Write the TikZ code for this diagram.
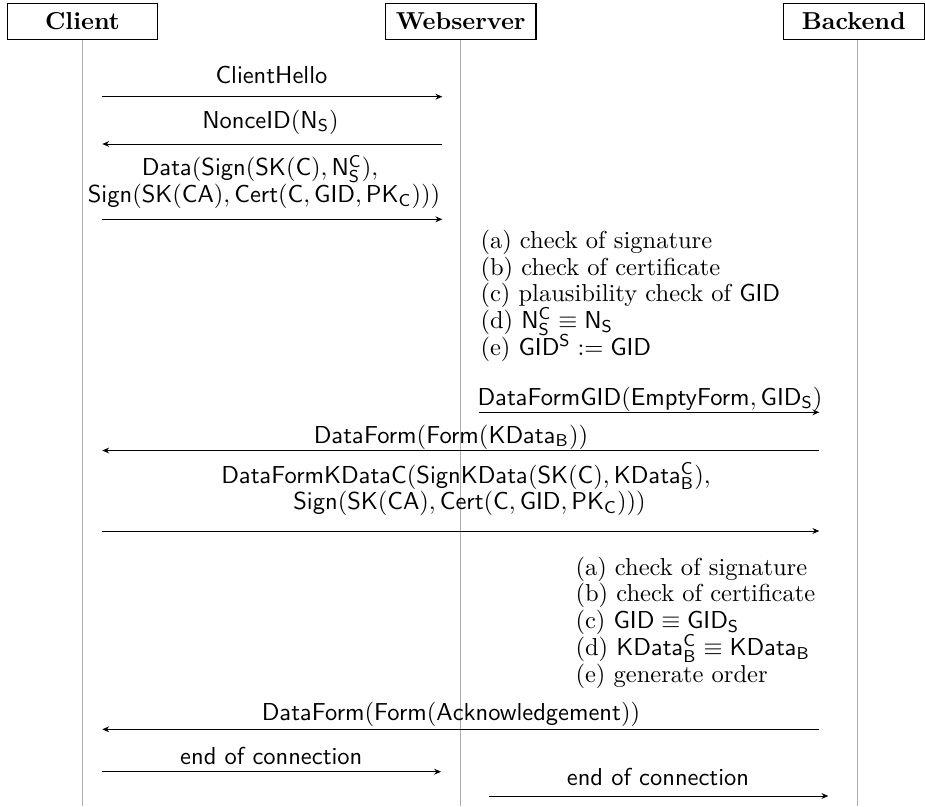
\documentclass[tikz,border=0pt]{standalone}
\usetikzlibrary{arrows.meta}
\begin{document}
\begin{tikzpicture}[x=0.408pt,y=-0.408pt,
  actor/.style={draw, line width=0.45pt, minimum width=61.4pt, minimum height=14.7pt, inner sep=0pt, font=\bfseries},
  life/.style={draw=black!32, line width=0.5pt},
  msg/.style={-{Stealth[length=2.8pt,width=2.4pt]}, line width=0.4pt},
  lbl/.style={anchor=base, inner sep=0pt},
  chk/.style={anchor=base west, inner sep=0pt}]
\useasboundingbox (0,0) rectangle (925,806);

% actors
\node[actor] (client) at (82.5,21.3) {Client};
\node[actor] (web) at (460.7,21.3) {Webserver};
\node[actor, minimum width=57.6pt] (back) at (853.8,21.3) {Backend};

% lifelines
\coordinate (cBot) at (82.7,806);
\coordinate (wBot) at (460.7,806);
\coordinate (bBot) at (857.3,806);
\draw[life] (client.south -| cBot) -- (cBot);
\draw[life] (web.south -| wBot) -- (wBot);
\draw[life] (back.south -| bBot) -- (bBot);

% message end points
\coordinate (m1a) at (101.7,96.7);  \coordinate (m1b) at (442.3,96.7);
\coordinate (m2a) at (442.3,144);   \coordinate (m2b) at (102.3,144);
\coordinate (m3a) at (101.7,219.3); \coordinate (m3b) at (442.3,219.3);
\coordinate (m4a) at (479,412.3);   \coordinate (m4b) at (819.3,412.3);
\coordinate (m5a) at (819.3,450.5); \coordinate (m5b) at (102.3,450.5);
\coordinate (m6a) at (101.7,531);   \coordinate (m6b) at (819.3,531);
\coordinate (m7a) at (819.3,729.3); \coordinate (m7b) at (102.3,729.3);
\coordinate (m8a) at (101.7,771.7); \coordinate (m8b) at (441,771.7);
\coordinate (m9a) at (489.3,796);   \coordinate (m9b) at (828.3,796);

\draw[msg] (m1a) -- (m1b);
\draw[msg] (m2a) -- (m2b);
\draw[msg] (m3a) -- (m3b);
\draw[msg] (m4a) -- (m4b);
\draw[msg] (m5a) -- (m5b);
\draw[msg] (m6a) -- (m6b);
\draw[msg] (m7a) -- (m7b);
\draw[msg] (m8a) -- (m8b);
\draw[msg] (m9a) -- (m9b);

% message labels
\node[lbl] (l1) at (271.5,83.3) {$\mathsf{ClientHello}$};
\node[lbl] (l2) at (270.5,128.3) {$\mathsf{NonceID}(\mathsf{N_S})$};
\node[lbl] (l3a) at (260,176) {$\mathsf{Data}(\mathsf{Sign}(\mathsf{SK}(\mathsf{C}),\mathsf{N_S^C}),$};
\node[lbl] (l3b) at (264,202.7) {$\mathsf{Sign}(\mathsf{SK}(\mathsf{CA}),\mathsf{Cert}(\mathsf{C},\mathsf{GID},\mathsf{PK_C})))$};
\node[lbl] (l4) at (650,405) {$\mathsf{DataFormGID}(\mathsf{EmptyForm},\mathsf{GID_S})$};
\node[lbl] (l5) at (451,443) {$\mathsf{DataForm}(\mathsf{Form}(\mathsf{KData_B}))$};
\node[lbl] (l6a) at (466,483) {$\mathsf{DataFormKDataC}(\mathsf{SignKData}(\mathsf{SK}(\mathsf{C}),\mathsf{KData_B^C}),$};
\node[lbl] (l6b) at (469.5,509.7) {$\mathsf{Sign}(\mathsf{SK}(\mathsf{CA}),\mathsf{Cert}(\mathsf{C},\mathsf{GID},\mathsf{PK_C})))$};
\node[lbl] (l7) at (451,720) {$\mathsf{DataForm}(\mathsf{Form}(\mathsf{Acknowledgement}))$};
\node[lbl] (l8) at (271.3,764.5) {\textsf{end of connection}};
\node[lbl] (l9) at (658,785) {\textsf{end of connection}};

% checks at the webserver
\node[chk] (wa) at (480,248.5) {(a) check of signature};
\node[chk] (wb) at (480,275.2) {(b) check of certificate};
\node[chk] (wc) at (480,301.9) {(c) plausibility check of $\mathsf{GID}$};
\node[chk] (wd) at (480,328.6) {(d) $\mathsf{N_S^C}\equiv\mathsf{N_S}$};
\node[chk] (we) at (480,355.3) {(e) $\mathsf{GID^S}:=\mathsf{GID}$};

% checks at the backend
\node[chk] (ba) at (575,575) {(a) check of signature};
\node[chk] (bb) at (575,601.9) {(b) check of certificate};
\node[chk] (bc) at (575,628.8) {(c) $\mathsf{GID}\equiv\mathsf{GID_S}$};
\node[chk] (bd) at (575,655.7) {(d) $\mathsf{KData_B^C}\equiv\mathsf{KData_B}$};
\node[chk] (be) at (575,682.6) {(e) generate order};
\end{tikzpicture}
\end{document}
